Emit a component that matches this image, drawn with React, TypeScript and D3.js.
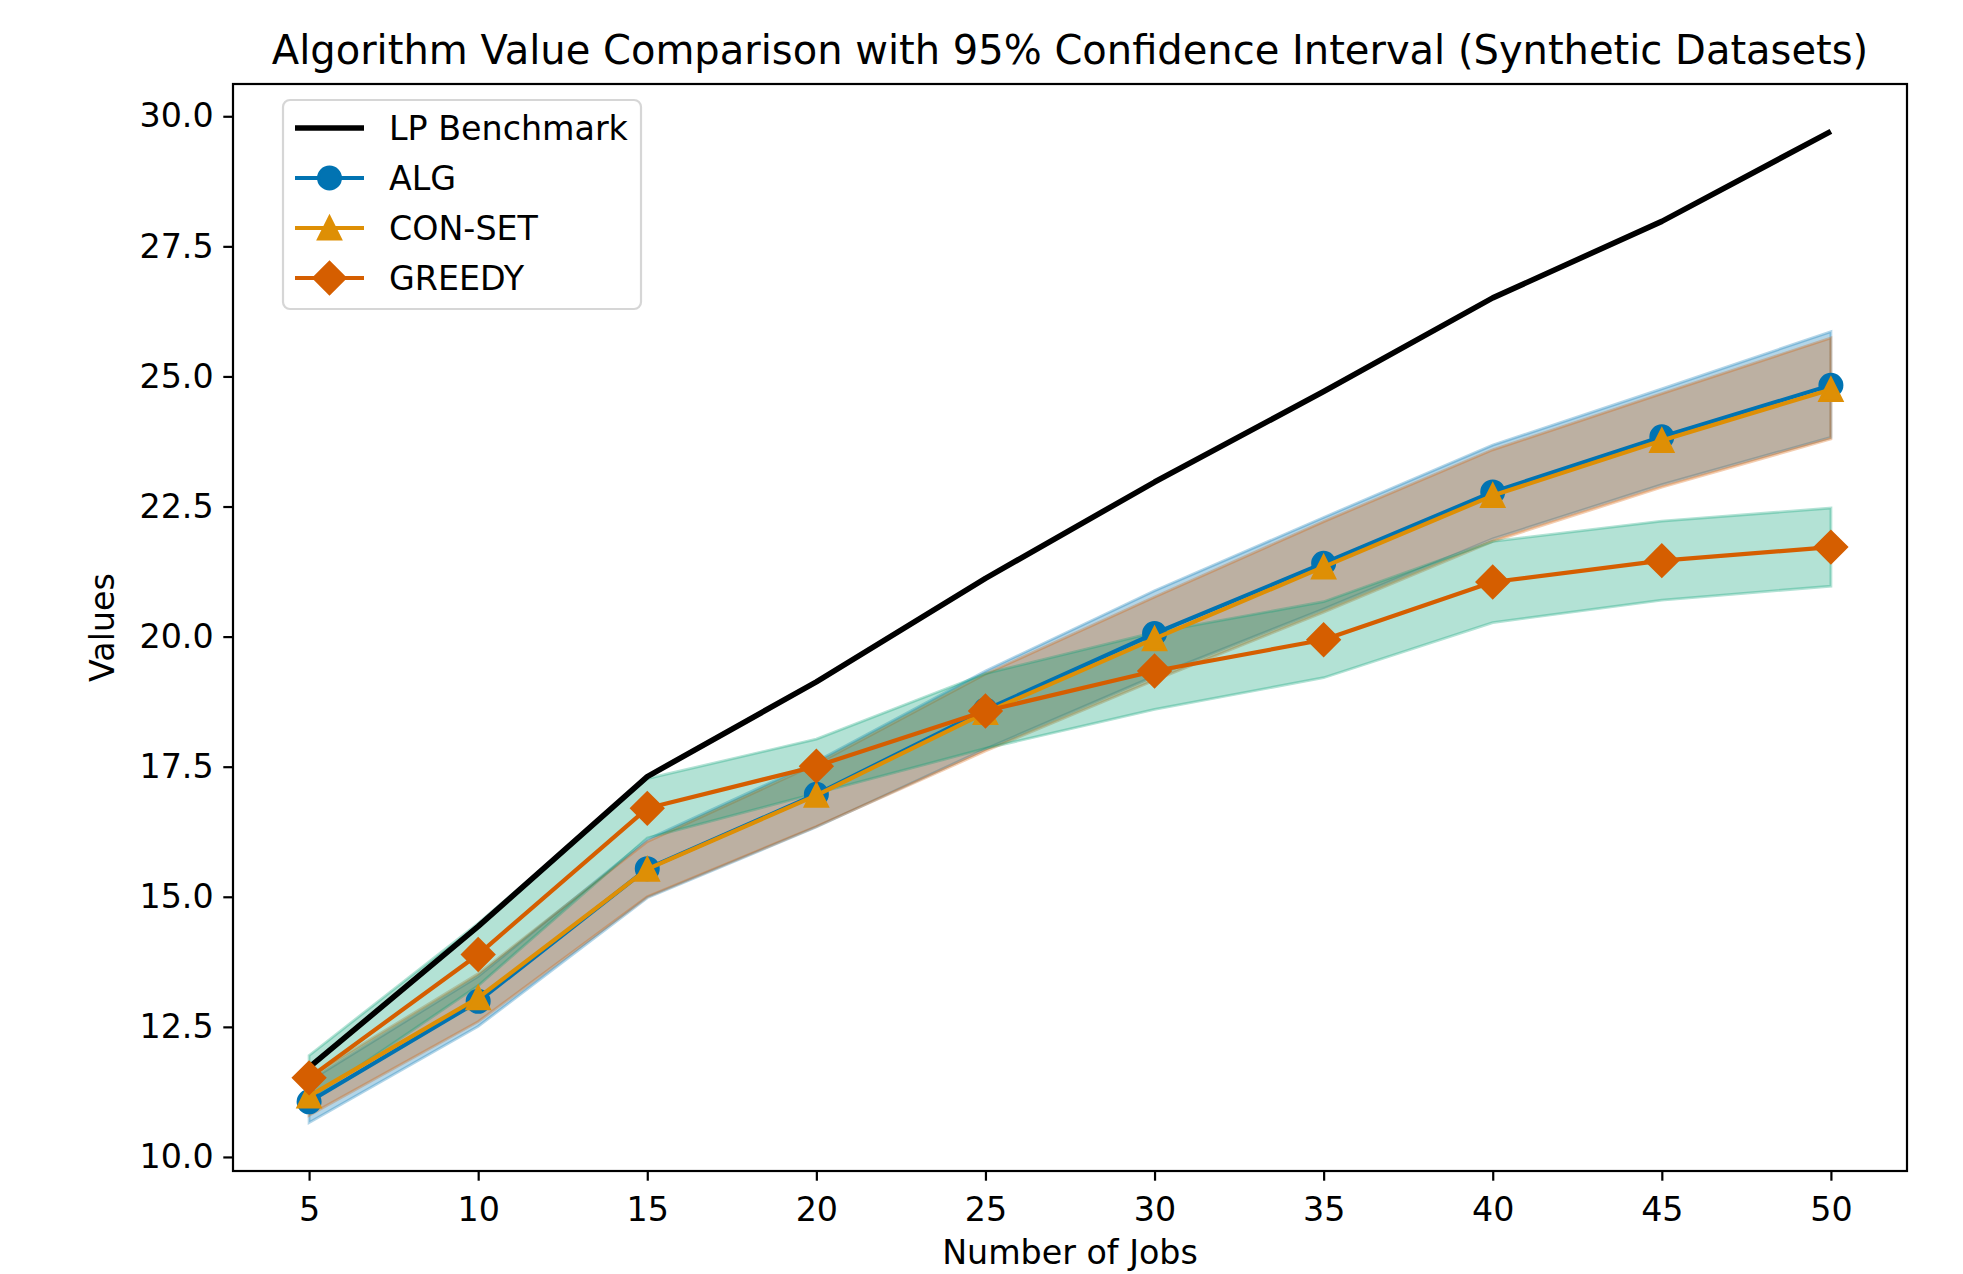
import React, { useEffect, useRef } from 'react'
import * as d3 from 'd3'

// values
const jobs = [5, 10, 15, 20, 25, 30, 35, 40, 45, 50]
const lpBenchmark = [11.72, 14.43, 17.31, 19.13, 21.12, 22.97, 24.71, 26.51, 27.98, 29.71]

const algMean = [11.06, 12.99, 15.54, 16.97, 18.59, 20.06, 21.41, 22.78, 23.84, 24.83]
const algLow = [10.66, 12.51, 14.98, 16.34, 17.84, 19.24, 20.53, 21.88, 22.92, 23.83]
const algHigh = [11.46, 13.47, 16.1, 17.6, 19.34, 20.88, 22.29, 23.68, 24.76, 25.86]

const conMean = [11.17, 13.06, 15.53, 16.95, 18.54, 19.96, 21.34, 22.71, 23.77, 24.75]
const conLow = [10.8, 12.6, 15.0, 16.35, 17.8, 19.16, 20.47, 21.83, 22.87, 23.8]
const conHigh = [11.54, 13.52, 16.06, 17.55, 19.28, 20.76, 22.21, 23.59, 24.67, 25.74]

const greedyMean = [11.52, 13.89, 16.7, 17.51, 18.57, 19.34, 19.94, 21.05, 21.46, 21.72]
const greedyLow = [11.09, 13.29, 16.13, 16.99, 17.85, 18.6, 19.21, 20.27, 20.7, 20.97]
const greedyHigh = [11.95, 14.49, 17.27, 18.03, 19.29, 20.08, 20.67, 21.83, 22.22, 22.47]

const xTicks = [5, 10, 15, 20, 25, 30, 35, 40, 45, 50]
const yTicks = [10, 12.5, 15, 17.5, 20, 22.5, 25, 27.5, 30]

const W = 1963, H = 1274
const margin = { left: 233, right: 56, top: 84, bottom: 103 }
const font = 'DejaVu Sans, Liberation Sans, sans-serif'
const fs = 33.3

export default function App() {
  const ref = useRef<SVGSVGElement>(null)

  useEffect(() => {
    const svg = d3.select(ref.current)
    svg.selectAll('*').remove()

    const x = d3.scaleLinear()
      .domain([2.75, 52.25])
      .range([margin.left, W - margin.right])

    const y = d3.scaleLinear()
      .domain([9.73, 30.62])
      .range([H - margin.bottom, margin.top])

    svg.append('rect').attr('width', W).attr('height', H).attr('fill', '#fff')

    // confidence bands first
    const bands = [
      { low: algLow, high: algHigh, color: '#0173b2' },
      { low: conLow, high: conHigh, color: '#d55e00' },
      { low: greedyLow, high: greedyHigh, color: '#029e73' },
    ]
    const area = d3.area<number>()
      .x((d, i) => x(jobs[i]))
    bands.forEach(b => {
      svg.append('path')
        .datum(jobs.map((_, i) => i))
        .attr('d', area.y0(i => y(b.low[i])).y1(i => y(b.high[i])))
        .attr('fill', b.color)
        .attr('fill-opacity', 0.3)
        .attr('stroke', b.color)
        .attr('stroke-opacity', 0.3)
        .attr('stroke-width', 2.8)
    })

    const line = d3.line<number>()
      .x((d, i) => x(jobs[i]))
      .y(d => y(d))

    svg.append('path')
      .attr('d', line(lpBenchmark))
      .attr('fill', 'none')
      .attr('stroke', '#000')
      .attr('stroke-width', 5.6)
      .attr('stroke-linejoin', 'round')

    const series = [
      { values: algMean, color: '#0173b2', shape: 'circle' },
      { values: conMean, color: '#de8f05', shape: 'triangle' },
      { values: greedyMean, color: '#d55e00', shape: 'diamond' },
    ]

    const marker = (g: any, shape: string, color: string, cx: number, cy: number) => {
      if (shape === 'circle') {
        g.append('circle').attr('cx', cx).attr('cy', cy).attr('r', 11.1)
          .attr('fill', color).attr('stroke', color).attr('stroke-width', 2.8)
      } else if (shape === 'triangle') {
        let s = 11.1
        g.append('path')
          .attr('d', `M${cx},${cy - s}L${cx + s},${cy + s}L${cx - s},${cy + s}Z`)
          .attr('fill', color).attr('stroke', color).attr('stroke-width', 2.8)
          .attr('stroke-linejoin', 'miter')
      } else {
        let s = 15.7
        g.append('path')
          .attr('d', `M${cx},${cy - s}L${cx + s},${cy}L${cx},${cy + s}L${cx - s},${cy}Z`)
          .attr('fill', color).attr('stroke', color).attr('stroke-width', 2.8)
      }
    }

    series.forEach(s => {
      const g = svg.append('g')
      g.append('path')
        .attr('d', line(s.values))
        .attr('fill', 'none')
        .attr('stroke', s.color)
        .attr('stroke-width', 4.2)
        .attr('stroke-linejoin', 'round')
      s.values.forEach((v, i) => marker(g, s.shape, s.color, x(jobs[i]), y(v)))
    })

    // axes
    const xAxis = d3.axisBottom(x).tickValues(xTicks).tickSize(9.7).tickPadding(16.5)
      .tickFormat(d3.format('d'))
    const yAxis = d3.axisLeft(y).tickValues(yTicks).tickSize(9.7).tickPadding(9.7)
      .tickFormat(d3.format('.1f'))

    const gx = svg.append('g').attr('transform', `translate(0,${H - margin.bottom})`).call(xAxis)
    const gy = svg.append('g').attr('transform', `translate(${margin.left},0)`).call(yAxis)
    ;[gx, gy].forEach(g => {
      g.select('.domain').remove()
      g.selectAll('line').attr('stroke', '#000').attr('stroke-width', 2.2)
      g.selectAll('text').attr('fill', '#000').style('font-family', font).style('font-size', fs + 'px')
    })

    svg.append('rect')
      .attr('x', margin.left).attr('y', margin.top)
      .attr('width', W - margin.right - margin.left)
      .attr('height', H - margin.bottom - margin.top)
      .attr('fill', 'none').attr('stroke', '#000').attr('stroke-width', 2.2)

    // labels
    svg.append('text')
      .attr('x', (margin.left + W - margin.right) / 2).attr('y', 64)
      .attr('text-anchor', 'middle')
      .style('font-family', font).style('font-size', '40px')
      .text('Algorithm Value Comparison with 95% Confidence Interval (Synthetic Datasets)')

    svg.append('text')
      .attr('x', (margin.left + W - margin.right) / 2).attr('y', 1264)
      .attr('text-anchor', 'middle')
      .style('font-family', font).style('font-size', fs + 'px')
      .text('Number of Jobs')

    svg.append('text')
      .attr('transform', `translate(114,${(margin.top + H - margin.bottom) / 2}) rotate(-90)`)
      .attr('text-anchor', 'middle')
      .style('font-family', font).style('font-size', fs + 'px')
      .text('Values')

    // legend
    const lg = svg.append('g')
    lg.append('rect')
      .attr('x', 283).attr('y', 100).attr('width', 358).attr('height', 209).attr('rx', 7)
      .attr('fill', '#fff').attr('fill-opacity', 0.8)
      .attr('stroke', '#d6d6d6').attr('stroke-width', 2.2)

    const items = [
      { label: 'LP Benchmark', color: '#000', shape: '', w: 5.6 },
      { label: 'ALG', color: '#0173b2', shape: 'circle', w: 4.2 },
      { label: 'CON-SET', color: '#de8f05', shape: 'triangle', w: 4.2 },
      { label: 'GREEDY', color: '#d55e00', shape: 'diamond', w: 4.2 },
    ]
    items.forEach((it, i) => {
      let cy = 128 + i * 50
      lg.append('line')
        .attr('x1', 295).attr('x2', 364).attr('y1', cy).attr('y2', cy)
        .attr('stroke', it.color).attr('stroke-width', it.w)
      if (it.shape) marker(lg, it.shape, it.color, 329.5, cy)
      lg.append('text')
        .attr('x', 389).attr('y', cy + 12)
        .style('font-family', font).style('font-size', fs + 'px')
        .text(it.label)
    })
  }, [])

  return (
    <svg ref={ref} width={W} height={H}
      style={{ position: 'absolute', left: 0, top: 0, display: 'block' }} />
  )
}
